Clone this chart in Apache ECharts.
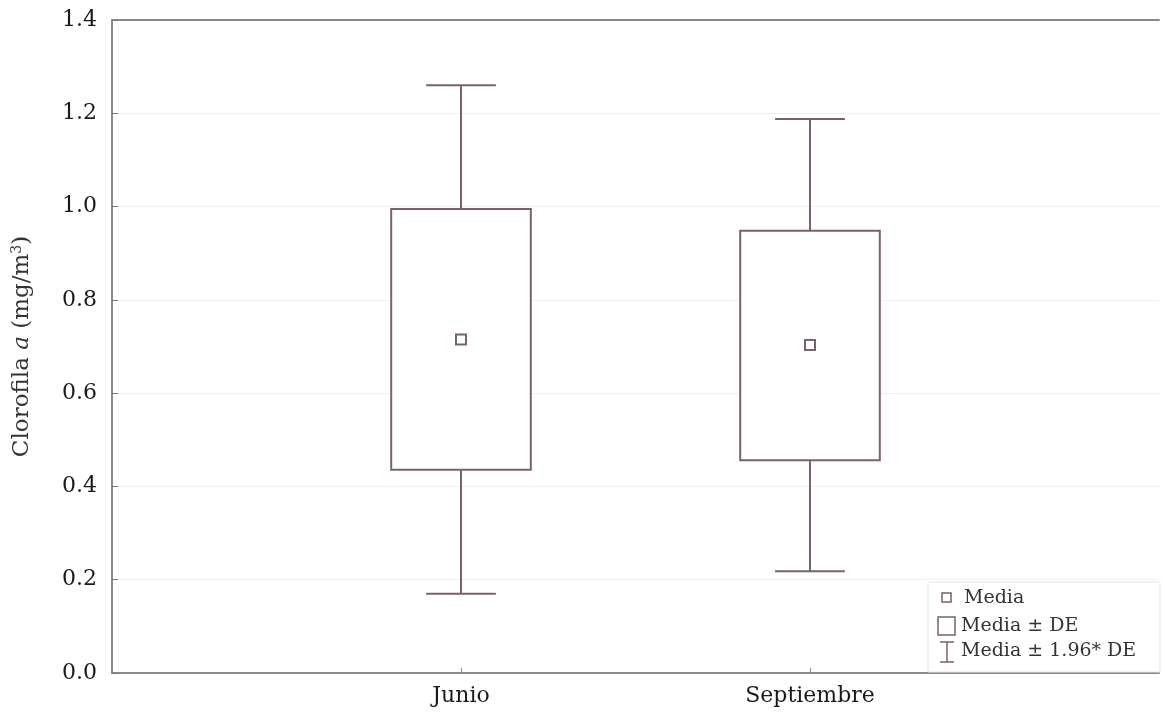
<!DOCTYPE html>
<html>
<head>
<meta charset="utf-8">
<script src="https://cdn.jsdelivr.net/npm/echarts@6/dist/echarts.min.js"></script>
<style>
html,body{margin:0;padding:0;background:#fff;}
#chart{width:1162px;height:717px;}
</style>
</head>
<body>
<div id="chart"></div>
<script>
const categories = ['Junio', 'Septiembre'];
const whiskerLow = [0.170, 0.218];
const boxLow = [0.436, 0.456];
const means = [0.715, 0.703];
const boxHigh = [0.995, 0.948];
const whiskerHigh = [1.260, 1.188];
const yTicks = [0, 0.2, 0.4, 0.6, 0.8, 1.0, 1.2, 1.4];
const legendLabels = ['Media', 'Media ± DE', 'Media ± 1.96* DE'];

const lineColor = '#7b6168';
const serif = '"DejaVu Serif", "Liberation Serif", serif';

const data = categories.map((c, i) => [i + 1, whiskerLow[i], boxLow[i], means[i], boxHigh[i], whiskerHigh[i]]);

const chart = echarts.init(document.getElementById('chart'), null, {renderer: 'canvas'});

const lg = {stroke: lineColor, lineWidth: 1.5};
const legendFont = '19px ' + serif;

chart.setOption({
  animation: false,
  backgroundColor: '#fff',
  grid: {left: 112, right: 0, top: 20, bottom: 44, containLabel: false},
  xAxis: [{
    type: 'value', min: 0, max: categories.length + 1, interval: 1,
    axisLine: {show: true, lineStyle: {color: '#8a8a8a', width: 2}},
    axisTick: {show: true, inside: true, length: 5, lineStyle: {color: '#8a8a8a'}},
    splitLine: {show: false},
    axisLabel: {
      margin: 12, fontFamily: serif, fontSize: 22, color: '#1a1a1a',
      formatter: v => categories[v - 1] || ''
    }
  }, {
    type: 'value', position: 'top', min: 0, max: categories.length + 1,
    axisLine: {show: true, lineStyle: {color: '#8a8a8a', width: 2}},
    axisTick: {show: false}, axisLabel: {show: false}, splitLine: {show: false}
  }],
  yAxis: {
    type: 'value', min: yTicks[0], max: yTicks[yTicks.length - 1], interval: 0.2,
    axisLine: {show: true, lineStyle: {color: '#8a8a8a', width: 2}},
    axisTick: {show: true, inside: true, length: 6, lineStyle: {color: '#777'}},
    splitLine: {show: true, lineStyle: {color: '#efefef', width: 1}},
    axisLabel: {margin: 15, fontFamily: serif, fontSize: 22, color: '#1a1a1a', formatter: v => v.toFixed(1)},
    name: '{n|Clorofila }{i|a}{n| (mg/m}{s|3}{n|)}',
    nameLocation: 'middle', nameGap: 78, nameRotate: 90,
    nameTextStyle: {
      rich: {
        n: {fontFamily: serif, fontSize: 23, color: '#333'},
        i: {fontFamily: serif, fontSize: 23, color: '#333', fontStyle: 'italic'},
        s: {fontFamily: serif, fontSize: 14, color: '#333', verticalAlign: 'top', padding: [0, 0, 10, 0]}
      }
    }
  },
  series: [{
    type: 'custom',
    data: data,
    encode: {x: 0, y: [1, 2, 3, 4, 5]},
    renderItem: function (params, api) {
      const x = api.value(0);
      const unit = api.size([1, 0])[0];
      const hb = unit * 0.2;
      const hc = unit * 0.1;
      const pwl = api.coord([x, api.value(1)]);
      const pbl = api.coord([x, api.value(2)]);
      const pm = api.coord([x, api.value(3)]);
      const pbh = api.coord([x, api.value(4)]);
      const pwh = api.coord([x, api.value(5)]);
      const st = {stroke: lineColor, lineWidth: 2, fill: null};
      const cx = pm[0];
      return {
        type: 'group',
        children: [
          {type: 'line', shape: {x1: cx, y1: pwl[1], x2: cx, y2: pbl[1]}, style: st},
          {type: 'line', shape: {x1: cx, y1: pbh[1], x2: cx, y2: pwh[1]}, style: st},
          {type: 'line', shape: {x1: cx - hc, y1: pwl[1], x2: cx + hc, y2: pwl[1]}, style: st},
          {type: 'line', shape: {x1: cx - hc, y1: pwh[1], x2: cx + hc, y2: pwh[1]}, style: st},
          {type: 'rect', shape: {x: cx - hb, y: pbh[1], width: 2 * hb, height: pbl[1] - pbh[1]}, style: {stroke: lineColor, lineWidth: 2, fill: '#fff'}},
          {type: 'rect', shape: {x: cx - 5, y: pm[1] - 5, width: 10, height: 10}, style: {stroke: lineColor, lineWidth: 2, fill: '#fff'}}
        ]
      };
    }
  }],
  graphic: [
    {type: 'rect', shape: {x: 928, y: 582, width: 232, height: 90}, style: {fill: '#fff', stroke: '#e6e6e6', lineWidth: 1}, z: 10},
    {type: 'rect', shape: {x: 942, y: 593, width: 9, height: 9}, style: {fill: '#fff', stroke: lineColor, lineWidth: 1.5}, z: 11},
    {type: 'text', x: 964, y: 598, style: {text: legendLabels[0], font: legendFont, fill: '#333', verticalAlign: 'middle'}, z: 11},
    {type: 'rect', shape: {x: 938, y: 617, width: 17, height: 18}, style: {fill: '#fff', stroke: lineColor, lineWidth: 1.5}, z: 11},
    {type: 'text', x: 961, y: 626, style: {text: legendLabels[1], font: legendFont, fill: '#333', verticalAlign: 'middle'}, z: 11},
    {type: 'line', shape: {x1: 940, y1: 642, x2: 954, y2: 642}, style: lg, z: 11},
    {type: 'line', shape: {x1: 947, y1: 642, x2: 947, y2: 662}, style: lg, z: 11},
    {type: 'line', shape: {x1: 940, y1: 662, x2: 954, y2: 662}, style: lg, z: 11},
    {type: 'text', x: 961, y: 651, style: {text: legendLabels[2], font: legendFont, fill: '#333', verticalAlign: 'middle'}, z: 11}
  ]
});
</script>
</body>
</html>
